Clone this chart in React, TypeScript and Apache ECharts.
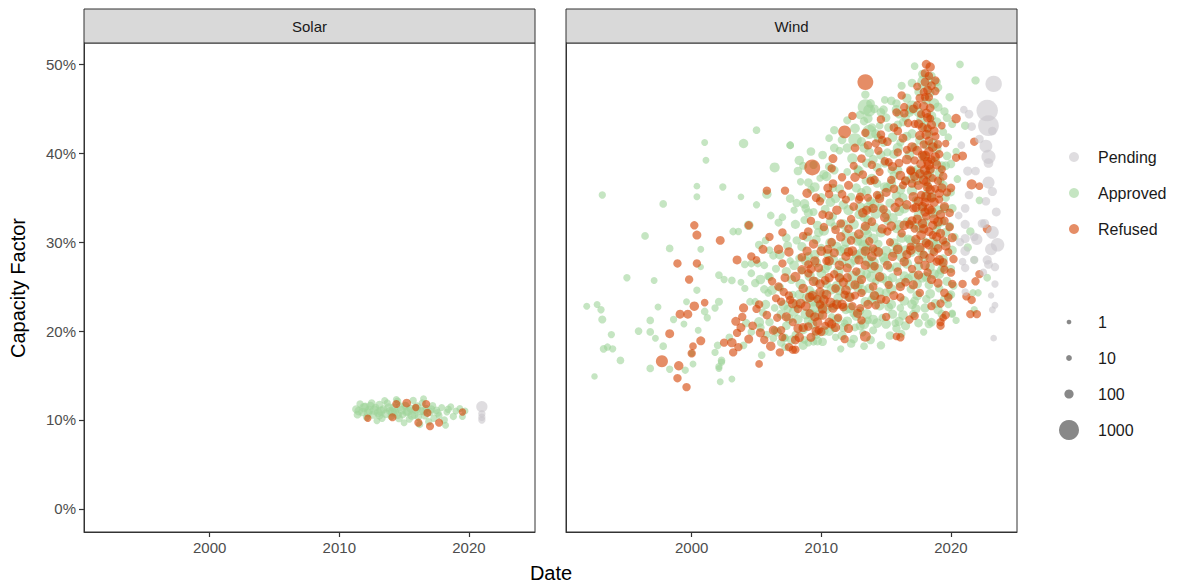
import React, { useEffect, useRef } from 'react';
import * as echarts from 'echarts';

// [year, capacity factor %, capacity MW]
const windApproved: number[][] = [
  [1993.1, 35.3, 40], [2001.0, 41.2, 30], [2004.0, 41.1, 110], [2001.1, 39.2, 30], [2005.0, 42.6, 50],
  [2006.4, 38.4, 140], [2007.6, 40.9, 50], [2000.4, 36.3, 25], [2002.4, 36.2, 40], [2000.4, 35.1, 30],
  [2003.8, 35.1, 25], [1997.8, 34.3, 50], [2005.8, 35.4, 110], [2005.0, 34.2, 40], [2007.0, 32.8, 50],
  [2004.4, 31.9, 120], [2003.2, 31.2, 50], [2003.6, 31.2, 40], [1996.4, 30.7, 50], [2005.7, 30.2, 50],
  [1998.3, 29.3, 50], [2000.7, 29.2, 30], [2000.7, 27.2, 20], [1995.0, 26.0, 40], [1997.1, 25.7, 30],
  [2002.1, 26.3, 50], [2002.5, 25.8, 40], [2003.1, 25.7, 50], [2003.8, 25.5, 30], [2004.1, 24.8, 40],
  [2000.4, 24.6, 40], [1991.9, 22.8, 30], [1992.7, 23.0, 30], [1993.0, 22.4, 40], [1993.1, 21.3, 60],
  [1997.4, 22.7, 30], [1999.6, 23.3, 30], [2001.0, 22.2, 50], [2001.2, 21.5, 40], [2001.8, 22.6, 40],
  [2002.1, 23.3, 60], [1996.8, 21.2, 50], [1998.6, 21.3, 40], [1999.4, 20.8, 30], [1993.8, 19.6, 40],
  [1993.2, 18.0, 50], [1993.5, 18.2, 40], [1993.9, 18.0, 40], [1995.9, 20.0, 50], [1996.8, 19.9, 50],
  [1997.2, 19.2, 30], [1997.8, 18.3, 50], [2000.5, 20.1, 30], [2000.0, 17.5, 25], [1994.5, 16.7, 50],
  [1992.5, 14.9, 20], [1996.8, 15.8, 50], [1998.3, 15.7, 40], [1999.5, 15.6, 40], [2000.1, 16.3, 30],
  [2002.2, 14.3, 30], [2003.1, 14.6, 30], [2002.1, 15.8, 30], [2002.3, 16.5, 40],
  [2004.1, 27.5, 50], [2004.6, 27.6, 50], [2005.1, 27.6, 50], [2005.6, 27.4, 50], [2005.2, 29.7, 70],
  [2006.0, 29.1, 50], [2006.3, 28.5, 70], [2004.9, 25.4, 70], [2004.6, 26.5, 50], [2006.0, 26.1, 70],
  [2004.5, 23.3, 50], [2004.9, 23.3, 50], [2005.6, 24.7, 70], [2005.9, 24.3, 50], [2006.4, 22.6, 50],
  [2004.2, 20.9, 70], [2004.6, 19.9, 50], [2005.2, 21.0, 140], [2005.3, 20.4, 70], [2005.8, 19.6, 50],
  [2006.0, 21.0, 70], [2006.4, 20.1, 50], [2007.2, 19.2, 50], [2006.3, 19.2, 50], [2002.0, 18.4, 50],
  [2001.8, 17.6, 40], [2002.3, 16.7, 50], [2002.1, 16.0, 40], [2002.9, 19.3, 50], [2004.0, 18.4, 50],
  [2005.4, 17.3, 50], [2006.9, 18.7, 70],
  [2007.2, 19.3, 50], [2007.2, 18.2, 50], [2008.7, 19.0, 50], [2009.0, 18.7, 50], [2009.4, 18.8, 50],
  [2011.0, 20.3, 50], [2011.8, 20.9, 50], [2011.5, 18.0, 40], [2013.3, 18.3, 50], [2014.6, 18.4, 70],
  [2016.2, 19.7, 50], [2015.8, 20.3, 70],
  [2019.8, 23.0, 50], [2020.1, 21.9, 50], [2021.7, 24.3, 40], [2022.1, 24.3, 40], [2022.8, 26.0, 50],
  [2019.9, 24.0, 50], [2021.8, 22.4, 40], [2020.1, 22.0, 40], [2022.2, 34.7, 50], [2021.5, 31.2, 70],
  [2021.3, 29.4, 70], [2021.8, 28.0, 50], [2021.1, 43.1, 70], [2020.7, 50.0, 50], [2021.9, 48.2, 70],
  [2013.4, 46.6, 70], [2013.4, 45.2, 500], [2013.7, 44.8, 250], [2013.3, 43.6, 70], [2014.9, 46.0, 50],
  [2015.8, 45.6, 70], [2015.8, 44.9, 110], [2017.2, 49.8, 50], [2018.0, 48.0, 500], [2018.9, 48.0, 70],
  [2017.0, 45.2, 300], [2011.0, 42.6, 70], [2010.6, 41.7, 50], [2007.6, 40.9, 50], [2013.7, 42.4, 400],
  [2012.6, 41.5, 350], [2008.3, 39.2, 110], [2009.4, 38.7, 70], [2008.1, 34.4, 70],
  [2007.4, 22.5, 70], [2007.8, 24.1, 50], [2008.2, 21.3, 110], [2008.5, 26.8, 50], [2008.9, 23.7, 180],
  [2007.6, 27.9, 40], [2008.1, 30.2, 70], [2008.7, 32.5, 60], [2009.0, 28.4, 90], [2009.3, 20.8, 140],
  [2009.6, 25.6, 70], [2009.2, 35.9, 50], [2008.4, 36.8, 40], [2007.9, 33.6, 40], [2009.8, 31.1, 110],
  [2009.5, 22.7, 200], [2008.0, 19.6, 50], [2009.9, 37.2, 40],
  [2010.2, 24.2, 110], [2010.5, 27.3, 70], [2010.8, 21.6, 50], [2010.3, 33.7, 90], [2010.9, 36.1, 70],
  [2011.2, 29.5, 120], [2011.5, 25.9, 70], [2011.0, 31.8, 50], [2011.7, 34.2, 110], [2011.9, 22.4, 90],
  [2012.2, 27.6, 140], [2012.5, 30.7, 70], [2012.0, 37.9, 50], [2012.8, 24.9, 110], [2012.4, 39.4, 160],
  [2012.9, 33.1, 90], [2011.4, 40.3, 50], [2010.6, 38.5, 70], [2012.6, 20.4, 50], [2011.1, 19.3, 40],
  [2010.0, 29.4, 40],
  [2013.0, 22.3, 70], [2013.2, 24.6, 120], [2013.5, 26.4, 90], [2013.1, 28.7, 180], [2013.6, 30.9, 70],
  [2013.3, 32.8, 110], [2013.8, 34.6, 90], [2013.4, 36.9, 50], [2013.9, 23.5, 110], [2014.2, 25.6, 50],
  [2014.0, 27.7, 200], [2014.4, 29.8, 70], [2014.1, 31.7, 110], [2014.6, 33.9, 70], [2014.3, 38.4, 90],
  [2014.7, 21.5, 50], [2014.8, 41.2, 70], [2013.7, 40.1, 110], [2014.5, 43.1, 50], [2013.2, 19.8, 40],
  [2014.9, 36.2, 120], [2013.6, 21.2, 50],
  [2015.0, 24.3, 90], [2015.3, 27.1, 70], [2015.6, 29.9, 120], [2015.1, 32.4, 70], [2015.8, 35.2, 110],
  [2015.4, 38.1, 50], [2015.9, 40.6, 140], [2015.2, 42.9, 90], [2016.1, 22.6, 50], [2016.4, 26.2, 110],
  [2016.7, 30.4, 70], [2016.0, 33.5, 140], [2016.5, 36.9, 70], [2016.8, 39.8, 120], [2016.3, 43.5, 70],
  [2016.6, 46.2, 110], [2015.7, 20.9, 50], [2016.9, 24.7, 70],
  [2017.1, 21.9, 70], [2017.4, 25.3, 110], [2017.0, 28.8, 50], [2017.6, 31.6, 140], [2017.3, 34.7, 70],
  [2017.8, 37.6, 110], [2017.2, 40.7, 70], [2017.7, 43.8, 120], [2017.5, 46.9, 70], [2018.1, 23.6, 70],
  [2018.4, 27.2, 110], [2018.0, 30.1, 50], [2018.6, 33.3, 140], [2018.2, 36.4, 70], [2018.8, 39.1, 110],
  [2018.3, 42.2, 70], [2018.7, 45.6, 160], [2018.5, 48.7, 70], [2017.9, 19.9, 40],
  [2019.1, 24.8, 70], [2019.4, 28.1, 110], [2019.0, 31.9, 50], [2019.6, 35.0, 70], [2019.3, 38.6, 90],
  [2019.8, 41.8, 50], [2019.5, 44.7, 70], [2020.0, 27.0, 70], [2020.3, 30.6, 50], [2020.1, 33.8, 90],
  [2020.5, 37.1, 50], [2019.9, 46.3, 70], [2020.4, 21.2, 40],
  [2007.3, 20.6, 80], [2007.7, 25.8, 100], [2008.3, 28.2, 60], [2008.8, 21.9, 150], [2009.1, 24.6, 80],
  [2009.6, 27.7, 120], [2009.4, 33.4, 60], [2010.0, 22.8, 100], [2010.4, 25.3, 80], [2010.7, 29.9, 150],
  [2010.9, 32.9, 60], [2011.3, 23.7, 120], [2011.6, 27.8, 80], [2011.9, 31.0, 100], [2012.2, 25.2, 150],
  [2012.5, 22.0, 80], [2012.7, 28.6, 100], [2012.3, 35.1, 60], [2012.8, 38.2, 80], [2013.0, 26.5, 150],
  [2013.3, 29.6, 200], [2013.6, 32.5, 100], [2013.9, 27.1, 150], [2013.1, 35.6, 80], [2013.5, 38.9, 100],
  [2013.9, 42.9, 80], [2014.2, 33.2, 150], [2014.5, 24.4, 100], [2014.0, 20.1, 60], [2014.8, 28.3, 120],
  [2014.3, 36.6, 80], [2014.6, 39.8, 100], [2015.2, 22.7, 80], [2015.5, 26.0, 100], [2015.0, 29.0, 150],
  [2015.8, 31.5, 80], [2015.3, 34.4, 100], [2015.6, 37.5, 80], [2015.1, 40.1, 60], [2015.9, 43.2, 80],
  [2016.2, 28.3, 120], [2016.6, 32.3, 80], [2016.3, 35.0, 100], [2016.9, 37.1, 80], [2016.1, 41.2, 60],
  [2016.8, 44.6, 100], [2017.2, 23.4, 80], [2017.5, 27.3, 100], [2017.1, 31.9, 80], [2017.8, 33.8, 120],
  [2017.4, 38.2, 80], [2017.0, 42.2, 100], [2018.0, 21.6, 60], [2018.3, 25.2, 80], [2018.6, 29.1, 100],
  [2018.9, 31.4, 80], [2018.4, 38.0, 100], [2018.1, 40.9, 80], [2018.9, 43.5, 120], [2018.4, 46.8, 80],
  [2019.2, 26.8, 60], [2019.6, 30.0, 80], [2019.2, 36.9, 60], [2019.7, 39.7, 80], [2019.4, 42.4, 60],
  [2020.2, 25.1, 60], [2020.0, 35.6, 60], [2020.4, 40.2, 40], [2006.8, 24.9, 80], [2006.5, 27.0, 60],
  [2006.7, 32.2, 60], [2007.3, 30.5, 80], [2006.1, 33.0, 50], [2005.5, 22.1, 60], [2006.9, 21.9, 100],
  [2005.9, 26.2, 60],
  [2007.5, 21.4, 120], [2007.4, 29.6, 90], [2007.6, 34.9, 80], [2008.1, 23.0, 150], [2007.9, 27.4, 120],
  [2008.0, 32.0, 100], [2008.2, 38.0, 80], [2008.6, 20.2, 120], [2008.4, 25.3, 150], [2008.5, 29.5, 100],
  [2008.7, 34.3, 120], [2009.0, 21.2, 100], [2009.1, 26.2, 150], [2008.9, 30.6, 120], [2009.0, 33.3, 100],
  [2009.2, 40.2, 80], [2009.6, 19.6, 100], [2009.4, 24.1, 150], [2009.5, 28.6, 120], [2009.7, 31.9, 100],
  [2009.5, 36.2, 120], [2010.1, 18.8, 80], [2009.9, 23.4, 150], [2010.0, 26.5, 120], [2010.2, 31.3, 150],
  [2010.0, 35.0, 100], [2010.1, 39.8, 80], [2010.6, 20.0, 120], [2010.4, 22.5, 150], [2010.5, 28.7, 120],
  [2010.7, 32.3, 100], [2010.4, 37.4, 120], [2011.0, 22.9, 150], [2011.2, 25.1, 120], [2010.9, 28.0, 150],
  [2011.1, 34.9, 100], [2011.0, 38.1, 80], [2011.6, 19.5, 100], [2011.4, 24.6, 150], [2011.5, 29.0, 120],
  [2011.7, 32.0, 150], [2011.4, 36.0, 100], [2011.6, 41.5, 80], [2012.0, 21.1, 120], [2012.1, 23.9, 150],
  [2011.9, 30.0, 120], [2012.1, 33.6, 150], [2012.0, 40.6, 100], [2012.5, 19.1, 80], [2012.4, 26.2, 150],
  [2012.6, 28.0, 120], [2012.5, 32.0, 150], [2012.7, 36.1, 100], [2012.6, 42.8, 120], [2013.0, 20.6, 100],
  [2012.9, 25.4, 150], [2013.1, 30.2, 200], [2013.0, 33.9, 150], [2012.9, 38.0, 120], [2013.1, 41.3, 100],
  [2013.0, 44.3, 80], [2013.5, 21.9, 150], [2013.4, 23.3, 120], [2013.6, 27.9, 200], [2013.5, 29.2, 150],
  [2013.4, 31.4, 200], [2013.6, 33.9, 150], [2013.5, 35.8, 120], [2013.6, 43.9, 100], [2014.0, 21.3, 120],
  [2014.1, 23.9, 150], [2013.9, 26.1, 200], [2014.0, 30.4, 150], [2014.1, 34.3, 120], [2013.9, 37.1, 150],
  [2014.0, 39.3, 100], [2014.1, 45.0, 80], [2014.5, 22.9, 150], [2014.4, 27.0, 120], [2014.6, 31.1, 150],
  [2014.5, 35.2, 120], [2014.4, 41.7, 100], [2014.6, 44.6, 80], [2015.0, 20.8, 120], [2015.1, 25.6, 150],
  [2014.9, 27.9, 120], [2015.0, 33.2, 150], [2015.1, 36.1, 120], [2014.9, 38.9, 100], [2015.0, 44.0, 80],
  [2015.5, 21.9, 100], [2015.4, 24.7, 150], [2015.6, 28.8, 120], [2015.5, 32.7, 150], [2015.4, 36.6, 120],
  [2015.6, 39.9, 100], [2015.5, 41.8, 120], [2016.0, 21.1, 100], [2016.1, 25.4, 150], [2015.9, 29.4, 120],
  [2016.0, 31.9, 150], [2016.1, 35.9, 120], [2015.9, 38.1, 100], [2016.0, 44.4, 80], [2016.5, 20.6, 100],
  [2016.4, 23.4, 120], [2016.6, 27.6, 150], [2016.5, 29.1, 120], [2016.4, 33.8, 150], [2016.6, 41.9, 100],
  [2016.5, 44.0, 80], [2017.0, 23.0, 120], [2017.1, 26.2, 150], [2016.9, 30.2, 120], [2017.0, 35.8, 150],
  [2017.1, 37.9, 100], [2016.9, 44.9, 120], [2017.0, 47.9, 80], [2017.5, 20.9, 80], [2017.4, 24.0, 120],
  [2017.6, 29.1, 150], [2017.5, 33.0, 120], [2017.4, 37.0, 150], [2017.6, 41.5, 100], [2017.5, 44.6, 120],
  [2018.0, 22.6, 100], [2018.1, 26.1, 120], [2017.9, 28.4, 150], [2018.0, 32.2, 120], [2018.1, 35.3, 150],
  [2017.9, 39.6, 120], [2018.0, 43.0, 150], [2018.1, 46.0, 100], [2018.5, 21.0, 80], [2018.4, 24.2, 120],
  [2018.6, 30.0, 150], [2018.5, 35.1, 120], [2018.4, 37.3, 100], [2018.6, 41.1, 150], [2018.5, 44.2, 120],
  [2019.0, 22.4, 100], [2019.1, 26.4, 120], [2018.9, 29.7, 150], [2019.0, 33.6, 120], [2019.1, 37.8, 100],
  [2018.9, 40.5, 120], [2019.0, 45.2, 100], [2019.5, 23.6, 80], [2019.4, 27.2, 120], [2019.6, 31.1, 100],
  [2019.5, 33.8, 120], [2019.4, 36.4, 100], [2019.6, 38.6, 80], [2020.0, 24.1, 80], [2020.1, 29.1, 100],
  [2019.9, 31.8, 80], [2020.0, 38.8, 80], [2020.1, 43.3, 60],
  [2005.3, 25.8, 120], [2005.7, 23.0, 100], [2006.2, 24.6, 120], [2006.6, 19.9, 100], [2006.8, 28.6, 120],
  [2007.1, 22.9, 150], [2007.3, 26.7, 100], [2007.7, 19.0, 100], [2007.9, 22.2, 150], [2008.3, 24.1, 120],
  [2008.6, 18.4, 100], [2008.8, 27.9, 120], [2009.2, 21.9, 150], [2009.4, 23.3, 120], [2009.7, 18.9, 100],
  [2009.8, 21.8, 150], [2010.2, 20.0, 120], [2010.3, 27.0, 100], [2010.8, 24.7, 150], [2011.2, 21.3, 120],
  [2011.3, 26.7, 150], [2011.7, 20.4, 100], [2011.8, 29.2, 120], [2012.2, 22.6, 150], [2012.3, 18.6, 80],
  [2012.7, 21.7, 120], [2012.8, 30.1, 100], [2013.3, 20.8, 150], [2013.7, 24.8, 120], [2013.8, 19.0, 80],
  [2014.3, 20.9, 120], [2014.7, 26.0, 150], [2014.2, 29.0, 150], [2015.3, 19.5, 80], [2015.4, 23.0, 120],
  [2015.8, 27.2, 120], [2016.3, 21.8, 120], [2016.7, 25.9, 100], [2016.2, 30.5, 150], [2017.3, 22.5, 100],
  [2017.8, 26.0, 120], [2017.3, 29.9, 100], [2018.3, 20.8, 80], [2018.8, 23.1, 100], [2018.7, 26.4, 120],
  [2019.3, 21.9, 80], [2019.7, 25.6, 100], [2019.3, 32.3, 100], [2013.3, 40.6, 120], [2013.8, 45.6, 80],
  [2014.2, 42.2, 100], [2014.8, 44.9, 80], [2015.4, 45.9, 80], [2016.2, 47.6, 60], [2017.8, 48.9, 80],
  [2019.0, 47.4, 80], [2019.7, 44.0, 80], [2012.0, 43.7, 60], [2011.0, 40.6, 80], [2010.2, 37.6, 100],
  [2009.0, 36.7, 80], [2008.6, 38.6, 60], [2010.7, 34.5, 120], [2009.6, 30.3, 100], [2008.8, 33.8, 80],
];

const windRefused: number[][] = [
  [2005.8, 35.8, 70], [2007.2, 35.8, 70], [2004.4, 31.9, 70], [2000.2, 31.9, 70], [2000.4, 30.8, 90],
  [2002.2, 30.2, 90], [1998.9, 27.6, 70], [2000.4, 27.6, 70], [1999.8, 25.8, 70], [2003.5, 28.0, 90],
  [2000.2, 22.8, 110], [1999.7, 21.9, 90], [1999.1, 21.9, 90], [2001.0, 23.2, 50], [1998.3, 19.7, 90],
  [2000.7, 18.9, 90], [2000.1, 18.3, 50], [2000.0, 17.5, 70], [1997.7, 16.6, 250], [1999.0, 16.1, 110],
  [1998.9, 14.7, 70], [1999.6, 13.7, 70],
  [2004.6, 28.4, 70], [2005.0, 28.0, 50], [2005.5, 29.2, 90], [2006.7, 29.2, 110], [2007.0, 27.6, 70],
  [2007.2, 26.0, 90], [2008.0, 26.1, 140], [2009.0, 26.5, 70], [2009.0, 27.5, 70], [2009.8, 27.1, 90],
  [2009.9, 25.3, 110], [2010.3, 25.7, 90], [2005.2, 23.0, 70], [2005.0, 22.5, 70], [2006.9, 23.3, 70],
  [2007.1, 24.4, 70], [2007.5, 24.0, 70], [2007.6, 23.5, 70], [2003.4, 21.1, 90], [2003.9, 21.6, 70],
  [2003.8, 20.4, 90], [2003.5, 19.8, 70], [2002.5, 18.7, 70], [2003.1, 18.7, 110], [2003.2, 17.6, 70],
  [2003.6, 18.2, 70], [2004.4, 19.1, 90], [2005.6, 19.0, 70], [2006.1, 18.3, 110], [2006.8, 17.6, 70],
  [2007.5, 18.2, 70], [2008.3, 19.3, 110], [2005.2, 16.3, 50],
  [2008.0, 19.0, 90], [2008.0, 17.9, 70], [2007.8, 17.9, 70], [2009.2, 19.3, 90], [2009.8, 20.1, 70],
  [2010.0, 19.9, 70], [2011.8, 19.1, 70], [2013.1, 21.2, 70], [2013.4, 19.4, 180], [2016.1, 19.3, 70],
  [2015.8, 19.4, 50], [2016.8, 21.3, 70], [2017.2, 21.7, 70],
  [2019.2, 20.6, 70], [2019.2, 21.0, 70], [2019.4, 21.5, 50], [2019.6, 21.8, 70], [2019.8, 23.8, 70],
  [2020.1, 25.3, 70], [2020.9, 25.3, 70], [2021.2, 23.9, 70], [2021.6, 23.5, 70], [2021.5, 21.9, 70],
  [2022.0, 21.9, 70], [2022.2, 26.4, 70], [2021.9, 25.6, 70], [2019.2, 23.1, 70],
  [2020.4, 43.9, 110], [2021.8, 41.3, 70], [2020.9, 39.7, 90], [2020.4, 39.5, 70], [2021.6, 36.5, 140],
  [2022.2, 36.3, 50], [2022.8, 31.5, 90],
  [2013.4, 48.0, 550], [2012.4, 44.2, 70], [2014.6, 43.8, 70], [2016.2, 46.5, 70], [2018.1, 50.0, 90],
  [2018.4, 49.7, 110], [2018.3, 48.7, 70], [2018.8, 48.2, 70], [2018.2, 47.1, 90], [2018.3, 46.3, 70],
  [2018.8, 47.0, 70], [2011.8, 42.4, 300], [2013.4, 42.3, 70], [2009.3, 38.4, 550], [2010.9, 39.4, 90],
  [2010.8, 38.3, 70], [2012.6, 37.3, 110], [2013.8, 36.9, 70], [2012.1, 36.4, 90], [2008.9, 35.5, 110],
  [2010.5, 36.1, 90], [2010.6, 35.4, 70], [2014.2, 41.1, 70], [2014.4, 40.3, 70], [2014.7, 41.5, 70],
  [2015.8, 44.6, 70], [2016.4, 45.2, 70],
  [2008.2, 22.5, 70], [2008.6, 24.8, 110], [2009.1, 22.0, 70], [2009.4, 29.8, 110], [2009.7, 23.6, 70],
  [2010.1, 21.8, 110], [2010.4, 27.9, 70], [2010.7, 23.2, 140], [2011.0, 26.4, 70], [2011.3, 21.5, 70],
  [2011.5, 30.6, 110], [2011.8, 24.1, 70], [2012.1, 28.9, 110], [2012.4, 22.8, 70], [2012.7, 26.7, 70],
  [2010.2, 31.7, 70], [2011.2, 33.6, 110], [2009.2, 32.4, 70], [2008.6, 30.7, 70], [2012.3, 32.6, 70],
  [2012.9, 34.8, 70], [2011.6, 37.3, 70], [2009.9, 34.6, 70],
  [2013.1, 24.3, 70], [2013.4, 27.4, 110], [2013.7, 30.1, 70], [2013.2, 33.3, 110], [2013.9, 38.7, 70],
  [2014.2, 22.9, 70], [2014.5, 26.1, 110], [2014.0, 29.3, 70], [2014.7, 31.5, 110], [2014.3, 35.3, 70],
  [2015.0, 21.6, 70], [2015.2, 25.2, 70], [2015.5, 28.4, 110], [2015.1, 31.2, 70], [2015.7, 33.9, 110],
  [2015.4, 37.0, 70], [2015.9, 40.1, 70], [2016.1, 23.8, 70], [2016.4, 27.8, 110], [2016.2, 31.0, 70],
  [2016.6, 34.2, 110], [2016.9, 38.0, 70], [2016.3, 41.7, 90], [2016.7, 43.4, 70], [2014.9, 39.1, 70],
  [2017.0, 27.0, 70], [2017.3, 30.3, 110], [2017.1, 33.8, 70], [2017.5, 36.4, 110], [2017.2, 39.2, 70],
  [2017.6, 42.0, 110], [2017.9, 28.6, 70], [2017.8, 32.1, 110], [2017.7, 35.3, 70], [2018.0, 38.1, 140],
  [2017.9, 41.0, 70], [2018.1, 44.5, 110], [2018.2, 26.6, 70], [2018.3, 29.7, 110], [2018.1, 32.9, 70],
  [2018.4, 35.9, 110], [2018.2, 37.6, 70], [2018.3, 40.2, 110], [2018.2, 42.8, 70], [2018.6, 30.8, 70],
  [2018.7, 34.5, 110], [2018.5, 39.3, 70], [2018.8, 41.9, 70], [2018.9, 27.8, 70], [2019.0, 36.9, 70],
  [2019.2, 33.1, 110], [2019.4, 30.2, 70], [2019.1, 39.9, 70], [2019.5, 26.9, 70], [2019.7, 35.6, 70],
  [2019.9, 31.7, 70], [2020.2, 28.1, 70], [2017.4, 45.4, 70], [2016.9, 29.5, 70], [2018.5, 22.8, 70],
  [2017.6, 24.3, 70], [2018.0, 46.3, 70], [2019.3, 43.1, 50],
  [2006.2, 25.6, 70], [2006.6, 21.5, 70], [2007.0, 31.1, 70], [2007.5, 28.9, 110], [2006.9, 20.1, 70],
  [2006.0, 30.6, 70],
  [2009.0, 20.5, 80], [2009.5, 21.6, 100], [2009.9, 23.0, 80], [2010.3, 20.6, 60], [2010.6, 26.0, 100],
  [2011.1, 24.8, 80], [2011.4, 27.4, 120], [2011.7, 22.7, 80], [2012.0, 26.0, 100], [2012.3, 30.2, 80],
  [2012.6, 24.0, 60], [2012.9, 28.0, 100], [2010.8, 30.0, 80], [2011.9, 34.8, 60], [2012.5, 38.6, 60],
  [2013.2, 37.6, 80], [2013.6, 35.0, 60], [2013.4, 31.8, 100], [2013.9, 32.3, 80], [2014.1, 27.3, 80],
  [2014.5, 37.9, 60], [2014.8, 33.7, 80], [2015.3, 30.0, 60], [2015.6, 36.0, 80], [2015.2, 39.0, 60],
  [2015.9, 26.7, 80], [2016.3, 36.4, 60], [2016.0, 38.9, 80], [2016.6, 40.4, 60], [2016.8, 32.0, 80],
  [2017.0, 36.6, 80], [2017.2, 43.3, 60], [2017.4, 47.5, 60], [2017.8, 39.8, 100], [2017.7, 44.4, 60],
  [2017.9, 46.9, 60], [2018.0, 34.5, 100], [2018.1, 36.8, 80], [2018.2, 39.1, 100], [2018.3, 41.4, 80],
  [2018.4, 43.9, 60], [2018.3, 31.2, 100], [2018.5, 33.6, 80], [2018.6, 37.2, 60], [2018.7, 28.9, 80],
  [2018.8, 36.0, 60], [2019.0, 29.3, 80], [2019.1, 34.8, 60], [2019.3, 38.2, 60], [2019.5, 32.4, 80],
  [2019.8, 28.9, 60], [2019.6, 41.1, 40], [2017.5, 28.0, 80], [2017.2, 31.5, 60], [2016.5, 25.5, 80],
  [2015.0, 23.5, 60], [2014.0, 25.0, 80], [2013.0, 22.6, 60], [2008.5, 28.3, 80], [2007.8, 21.0, 60],
  [2007.0, 19.3, 60], [2006.5, 23.7, 60],
  [2008.6, 20.4, 100], [2008.4, 23.1, 120], [2008.5, 26.9, 100], [2009.1, 23.8, 120], [2008.9, 29.0, 100],
  [2009.0, 31.2, 80], [2009.6, 20.0, 100], [2009.4, 25.6, 120], [2009.5, 27.9, 100], [2009.6, 35.0, 80],
  [2010.1, 22.5, 120], [2009.9, 24.4, 100], [2010.0, 29.0, 120], [2010.1, 33.1, 80], [2010.6, 21.0, 100],
  [2010.4, 24.1, 120], [2010.5, 29.2, 100], [2010.6, 33.0, 80], [2011.1, 20.4, 100], [2010.9, 22.6, 120],
  [2011.0, 28.8, 100], [2011.1, 31.4, 80], [2010.9, 36.6, 80], [2011.6, 23.0, 120], [2011.4, 26.0, 100],
  [2011.5, 32.1, 80], [2011.6, 35.4, 80], [2012.1, 20.3, 100], [2011.9, 24.6, 120], [2012.0, 27.1, 100],
  [2012.1, 31.5, 80], [2012.6, 25.2, 100], [2012.4, 29.0, 120], [2012.5, 34.0, 80], [2012.6, 40.6, 80],
  [2013.1, 25.8, 100], [2012.9, 30.9, 120], [2013.0, 35.1, 80], [2013.1, 39.4, 80], [2013.6, 23.0, 100],
  [2013.4, 29.0, 120], [2013.5, 33.6, 100], [2013.6, 40.9, 80], [2014.1, 24.0, 100], [2013.9, 28.4, 120],
  [2014.0, 33.8, 100], [2014.1, 37.0, 80], [2014.6, 23.6, 100], [2014.4, 28.9, 120], [2014.5, 34.9, 100],
  [2014.6, 42.1, 80], [2015.1, 27.4, 100], [2014.9, 32.8, 120], [2015.0, 35.6, 100], [2015.1, 41.3, 80],
  [2015.6, 24.0, 100], [2015.4, 31.8, 120], [2015.5, 38.5, 100], [2015.6, 42.9, 80], [2016.1, 25.0, 100],
  [2015.9, 29.2, 120], [2016.0, 34.5, 100], [2016.1, 37.5, 120], [2015.9, 42.5, 80], [2016.6, 28.6, 100],
  [2016.4, 31.9, 120], [2016.5, 36.9, 100], [2016.6, 39.3, 120], [2016.4, 44.5, 80], [2017.1, 25.2, 100],
  [2016.9, 29.1, 120], [2017.0, 32.4, 100], [2017.1, 35.1, 120], [2016.9, 38.1, 100], [2017.0, 40.7, 120],
  [2017.1, 45.0, 80], [2017.5, 26.3, 100], [2017.6, 29.4, 120], [2017.4, 32.6, 100], [2017.5, 34.6, 120],
  [2017.6, 37.7, 100], [2017.4, 40.3, 120], [2017.5, 43.3, 100], [2017.6, 46.2, 80], [2018.0, 27.4, 120],
  [2018.1, 29.9, 100], [2017.9, 31.5, 120], [2018.0, 33.4, 100], [2018.1, 35.1, 150], [2017.9, 37.0, 120],
  [2018.0, 39.7, 150], [2018.1, 42.1, 120], [2017.9, 45.3, 100], [2018.0, 48.0, 80], [2018.5, 25.8, 100],
  [2018.4, 28.2, 120], [2018.6, 31.9, 100], [2018.5, 35.0, 120], [2018.4, 38.2, 100], [2018.6, 40.7, 120],
  [2018.5, 43.2, 100], [2018.4, 45.1, 80], [2019.0, 25.4, 100], [2019.1, 28.0, 120], [2018.9, 30.6, 100],
  [2019.0, 32.3, 120], [2019.1, 35.5, 100], [2018.9, 38.7, 100], [2019.0, 41.0, 80], [2019.5, 24.3, 80],
  [2019.4, 27.7, 100], [2019.6, 29.6, 120], [2019.5, 34.0, 100], [2019.4, 37.4, 80], [2020.0, 26.6, 80],
  [2020.1, 30.5, 100], [2019.9, 33.3, 80], [2020.0, 36.1, 80],
  [2004.0, 22.6, 100], [2004.7, 20.6, 80], [2005.3, 19.8, 100], [2005.8, 21.8, 80], [2006.3, 20.1, 100],
  [2006.7, 25.0, 80], [2007.3, 21.6, 100], [2007.8, 23.1, 120], [2008.2, 20.3, 100], [2008.8, 22.8, 120],
  [2009.3, 24.0, 100], [2009.7, 21.0, 120], [2010.2, 23.5, 120], [2010.8, 20.8, 100], [2011.2, 23.0, 120],
  [2011.7, 25.5, 100], [2012.2, 23.8, 120], [2012.8, 22.0, 100], [2009.2, 27.0, 100], [2010.6, 27.9, 120],
  [2011.9, 28.4, 100], [2017.7, 30.8, 120], [2017.8, 34.0, 120], [2017.7, 38.8, 120], [2017.8, 42.9, 100],
  [2018.3, 33.7, 150], [2018.2, 36.2, 120], [2018.3, 38.7, 150], [2018.2, 44.0, 100], [2018.7, 32.6, 120],
  [2018.8, 39.6, 100], [2018.7, 42.5, 100], [2019.2, 31.0, 100], [2019.3, 36.1, 100], [2017.3, 33.9, 100],
  [2017.2, 37.4, 100], [2018.5, 47.6, 80], [2018.0, 49.0, 80],
];

const windPending: number[][] = [
  [2023.3, 47.8, 600], [2022.8, 44.8, 1200], [2022.9, 43.1, 1100], [2023.2, 42.5, 80], [2021.4, 44.4, 80],
  [2021.6, 43.0, 80], [2022.2, 41.6, 80], [2022.7, 40.8, 300], [2022.9, 39.6, 400], [2022.9, 38.9, 120],
  [2021.3, 38.0, 100], [2021.9, 38.0, 80], [2022.9, 36.7, 250], [2023.2, 35.7, 100], [2021.4, 35.3, 80],
  [2022.7, 34.6, 80], [2021.1, 33.8, 80], [2023.5, 33.4, 90], [2022.4, 32.1, 80], [2022.6, 32.1, 100],
  [2023.2, 31.1, 300], [2021.8, 30.6, 80], [2023.6, 29.7, 350], [2023.1, 29.2, 250], [2021.1, 32.0, 100],
  [2021.1, 30.4, 100], [2021.1, 29.0, 120], [2022.8, 28.0, 100], [2022.9, 27.5, 90], [2023.4, 27.2, 70],
  [2021.1, 27.1, 70], [2021.8, 28.0, 70], [2023.4, 25.3, 40], [2023.4, 22.9, 30], [2023.2, 22.4, 30],
  [2023.3, 19.2, 25], [2021.1, 24.4, 40], [2020.7, 30.0, 70], [2020.6, 33.0, 50], [2022.5, 26.6, 50],
  [2022.0, 30.3, 200], [2020.8, 40.9, 50], [2021.0, 44.9, 50], [2020.9, 27.8, 50], [2023.1, 24.0, 20],
];

const solarApproved: number[][] = [
  [2011.3, 11.2, 60], [2011.4, 10.6, 50], [2011.6, 11.8, 40], [2011.8, 10.9, 80], [2012.0, 11.5, 60],
  [2012.1, 10.3, 40], [2012.3, 11.1, 80], [2012.5, 11.9, 50], [2012.6, 10.6, 60], [2012.8, 11.4, 40],
  [2013.0, 10.8, 80], [2013.1, 11.7, 60], [2013.3, 10.2, 40], [2013.4, 11.2, 60], [2013.6, 10.7, 80],
  [2013.7, 11.9, 40], [2013.9, 11.0, 60], [2014.0, 10.4, 40], [2014.2, 11.4, 80], [2014.3, 10.9, 60],
  [2014.5, 12.1, 40], [2014.6, 10.2, 60], [2014.8, 11.1, 80], [2014.9, 10.6, 40], [2015.1, 11.6, 60],
  [2015.2, 10.9, 80], [2015.4, 10.1, 40], [2015.5, 11.3, 60], [2015.7, 12.2, 40], [2015.8, 10.6, 60],
  [2016.0, 11.5, 80], [2016.1, 10.3, 40], [2016.3, 11.0, 60], [2016.4, 11.9, 40], [2016.6, 10.5, 60],
  [2016.7, 11.3, 40], [2016.9, 9.8, 40], [2017.0, 10.9, 60], [2017.2, 11.6, 40], [2017.3, 10.2, 40],
  [2017.5, 11.1, 40], [2017.7, 10.5, 30], [2017.9, 11.4, 30], [2018.1, 10.0, 40], [2018.3, 10.9, 30],
  [2018.6, 11.5, 30], [2018.8, 10.4, 40], [2019.0, 11.0, 30], [2019.3, 11.3, 30], [2019.5, 10.4, 30],
  [2019.7, 11.0, 30], [2018.2, 9.4, 30], [2016.2, 9.5, 40], [2015.0, 9.7, 30], [2012.9, 9.9, 30],
  [2014.4, 12.3, 30], [2013.5, 12.2, 30], [2016.5, 12.4, 30],
  [2011.5, 11.0, 80], [2011.9, 11.4, 100], [2012.2, 10.8, 80], [2012.7, 11.1, 100], [2013.2, 11.0, 100],
  [2013.8, 11.4, 80], [2014.1, 10.9, 100], [2014.7, 11.5, 80], [2015.3, 11.0, 100], [2015.9, 11.2, 100],
  [2016.5, 11.0, 80], [2017.1, 11.2, 60], [2017.6, 10.8, 50], [2018.4, 11.2, 40], [2015.6, 10.5, 80],
  [2014.5, 10.6, 80], [2013.1, 10.5, 60], [2012.4, 11.6, 60],
];

const solarRefused: number[][] = [
  [2014.4, 11.8, 60], [2015.2, 11.9, 80], [2016.7, 11.8, 60], [2016.8, 10.8, 60], [2014.1, 10.3, 60],
  [2016.1, 9.7, 60], [2017.0, 9.3, 60], [2017.7, 9.7, 60], [2019.5, 10.9, 40], [2012.2, 10.2, 40],
  [2015.9, 11.4, 40],
];

const solarPending: number[][] = [
  [2021.0, 11.5, 200], [2021.0, 10.3, 40], [2021.0, 10.0, 40], [2021.0, 10.7, 40],
];

const panels = ['Solar', 'Wind'];
const statusNames = ['Pending', 'Approved', 'Refused'];
const statusColors = ['#c9c7cc', '#9fd39a', '#d44100'];
const sizeBreaks = [1, 10, 100, 1000];
const yTicks = [0, 10, 20, 30, 40, 50];
const xTicks = [2000, 2010, 2020];

const FONT = 'Liberation Sans, Arial, sans-serif';
const sizeOf = (mw: number) => 4.2 + 0.5 * Math.sqrt(mw);

const App: React.FC = () => {
  const chartRef = useRef<HTMLDivElement>(null);

  useEffect(() => {
    if (!chartRef.current) return;
    const chart = echarts.init(chartRef.current, undefined, { renderer: 'svg' });

    const gridLefts = [84, 566];
    const gridW = 451;
    const gridTop = 43;
    const gridH = 489;

    const mkSeries = (name: string, data: number[][], idx: number) => {
      const ci = statusNames.indexOf(name);
      return {
        type: 'scatter',
        name,
        xAxisIndex: idx,
        yAxisIndex: idx,
        data,
        symbolSize: (d: number[]) => sizeOf(d[2]),
        itemStyle: { color: statusColors[ci], opacity: 0.6 },
        emphasis: { disabled: true },
      };
    };

    const sizeLegend: any[] = [];
    sizeBreaks.forEach((b, i) => {
      const cy = 322 + i * 36;
      sizeLegend.push({
        type: 'circle',
        shape: { cx: 1069, cy, r: sizeOf(b) / 2 },
        style: { fill: '#555', opacity: 0.7 },
      });
      sizeLegend.push({
        type: 'text',
        x: 1098,
        y: cy,
        style: { text: String(b), font: `16px ${FONT}`, fill: '#1a1a1a', verticalAlign: 'middle' },
      });
    });

    const option: any = {
      animation: false,
      textStyle: { fontFamily: FONT },
      grid: gridLefts.map((l) => ({
        left: l, top: gridTop, width: gridW, height: gridH,
        show: true, borderColor: '#333', borderWidth: 1, backgroundColor: '#fff',
      })),
      xAxis: panels.map((_, i) => ({
        type: 'value',
        gridIndex: i,
        min: 1990.3,
        max: 2025.1,
        splitLine: { show: false },
        axisLine: { show: true, onZero: false, lineStyle: { color: '#333' } },
        axisTick: { show: true, length: 5, lineStyle: { color: '#333', width: 1.2 }, customValues: xTicks },
        axisLabel: {
          customValues: xTicks,
          formatter: (v: number) => String(v),
          color: '#4d4d4d',
          fontSize: 15,
          margin: 8,
          fontFamily: FONT,
        },
      })),
      yAxis: panels.map((_, i) => ({
        type: 'value',
        gridIndex: i,
        min: -2.6,
        max: 52.4,
        splitLine: { show: false },
        axisLine: { show: true, onZero: false, lineStyle: { color: '#333' } },
        axisTick: { show: i === 0, length: 5, lineStyle: { color: '#333', width: 1.2 }, customValues: yTicks },
        axisLabel: {
          show: i === 0,
          customValues: yTicks,
          formatter: (v: number) => `${v}%`,
          color: '#4d4d4d',
          fontSize: 15,
          margin: 8,
          fontFamily: FONT,
        },
      })),
      legend: {
        data: statusNames,
        orient: 'vertical',
        left: 1064,
        top: 142,
        icon: 'circle',
        itemWidth: 10,
        itemHeight: 10,
        itemGap: 16,
        selectedMode: false,
        textStyle: { fontSize: 16, color: '#1a1a1a', lineHeight: 20, padding: [0, 0, 0, 14], fontFamily: FONT },
      },
      series: [
        mkSeries('Approved', solarApproved, 0),
        mkSeries('Refused', solarRefused, 0),
        mkSeries('Pending', solarPending, 0),
        mkSeries('Approved', windApproved, 1),
        mkSeries('Refused', windRefused, 1),
        mkSeries('Pending', windPending, 1),
      ],
      graphic: [
        ...panels.flatMap((p, i) => [
          {
            type: 'rect',
            shape: { x: gridLefts[i], y: 9, width: gridW, height: 34 },
            style: { fill: '#d9d9d9', stroke: '#333', lineWidth: 1 },
          },
          {
            type: 'text',
            x: gridLefts[i] + gridW / 2,
            y: 26,
            style: { text: p, font: `15px ${FONT}`, fill: '#1a1a1a', align: 'center', verticalAlign: 'middle' },
          },
        ]),
        {
          type: 'text',
          x: 18,
          y: 288,
          rotation: Math.PI / 2,
          style: { text: 'Capacity Factor', font: `20px ${FONT}`, fill: '#000', align: 'center', verticalAlign: 'middle' },
        },
        {
          type: 'text',
          x: 551,
          y: 573,
          style: { text: 'Date', font: `20px ${FONT}`, fill: '#000', align: 'center', verticalAlign: 'middle' },
        },
        ...sizeLegend,
      ],
    };

    chart.setOption(option);
    return () => {
      chart.dispose();
    };
  }, []);

  return <div ref={chartRef} style={{ position: 'absolute', left: 0, top: 0, width: 1185, height: 587 }} />;
};

export default App;
